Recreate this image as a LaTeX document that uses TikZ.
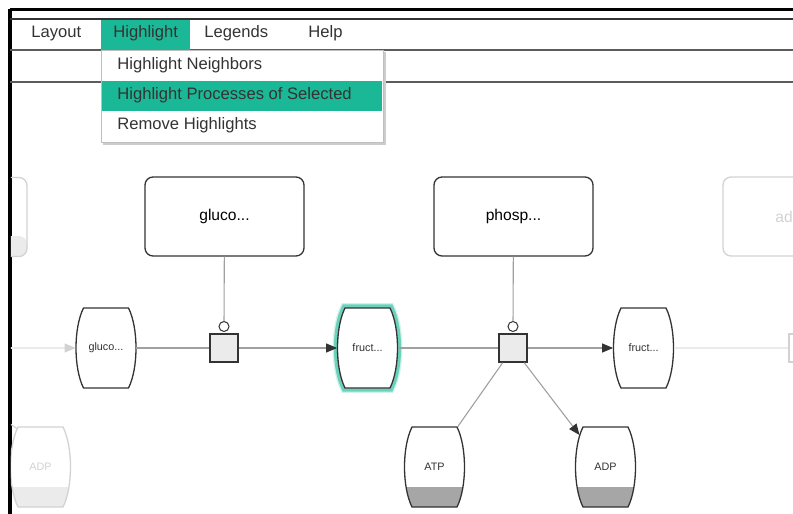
\documentclass[tikz,border=0pt]{standalone}
\usepackage{fontspec}
\setmainfont{Liberation Sans}
\usetikzlibrary{arrows.meta,positioning}

\definecolor{hl}{RGB}{26,184,150}
\definecolor{ink}{HTML}{333333}
\definecolor{wire}{HTML}{A0A0A0}
\definecolor{pale}{HTML}{D2D2D2}
\definecolor{paler}{HTML}{EBEBEB}
\definecolor{band}{HTML}{A6A6A6}

% barrel outline, 60x80 units round the origin
\newcommand{\barrelpath}{(-22.5,-40) -- (22.5,-40)
  .. controls (32.5,-20) and (32.5,20) .. (22.5,40) -- (-22.5,40)
  .. controls (-32.5,20) and (-32.5,-20) .. (-22.5,-40) -- cycle}
% molecule: outline colour, band colour, name, position, text
\newcommand{\molecule}[5]{%
  \begin{scope}[shift={#4}]
    \fill[white] \barrelpath;
    \begin{scope}
      \clip \barrelpath;
      \fill[#2] (-40,20) rectangle (40,45);
    \end{scope}
    \draw[#1,line width=0.65pt] \barrelpath;
  \end{scope}
  \node[mol,text=#1] (#3) at #4 {#5};}

\tikzstyle{menu}=[font=\fontsize{8.3}{10}\selectfont,
                  text=ink,
                  inner sep=0pt,
                  anchor=base west]
\tikzstyle{pbox}=[shape=rectangle,
                  rounded corners=4pt,
                  draw=ink,
                  line width=0.65pt,
                  minimum width=79.5pt,
                  minimum height=39.5pt,
                  font=\fontsize{7.8}{9}\selectfont]
\tikzstyle{fbox}=[pbox,
                  draw=pale,
                  text=pale]
\tikzstyle{fboxb}=[fbox,
                  path picture={\fill[paler] ([yshift=-9.5pt]path picture bounding box.west)
                                rectangle (path picture bounding box.south east);}]
\tikzstyle{mol}=[shape=rectangle,
                 minimum width=30pt,
                 minimum height=40pt,
                 inner sep=0pt,
                 font=\fontsize{5.4}{6}\selectfont]
\tikzstyle{proc}=[shape=rectangle,
                  draw=ink,
                  fill=paler,
                  line width=0.65pt,
                  minimum size=14pt,
                  inner sep=0pt]
\tikzstyle{fproc}=[proc,
                   draw=pale,
                   fill=white]
\tikzstyle{mod}=[shape=circle,
                 draw=ink,
                 fill=white,
                 line width=0.5pt,
                 minimum size=5pt,
                 inner sep=0pt]
\tikzstyle{wire}=[draw=wire,
                  line width=0.55pt]
\tikzstyle{fwire}=[draw=paler,
                   line width=0.55pt]

\begin{document}
\begin{tikzpicture}[x=0.5pt,y=-0.5pt,
    >={Triangle[length=5.5pt,width=4.5pt,color=ink]}]
\useasboundingbox (0,0) rectangle (793,514);

% window frame
\draw[black,line width=1.4pt] (9.5,9.5) -- (793,9.5);
\draw[black,line width=1.6pt] (10,9) -- (10,514);
\draw[ink,line width=1pt] (10,18.5) -- (793,18.5);
\draw[ink!80,line width=0.7pt] (10,50) -- (793,50);
\draw[ink!80,line width=0.7pt] (10,82) -- (793,82);

% menu bar
\fill[hl] (101,19.5) rectangle (190,50);
\node[menu] (lay) at (31,37)  {Layout};
\node[menu] (hil) at (113,37) {Highlight};
\node[menu] (leg) at (204,37) {Legends};
\node[menu] (hlp) at (308,37) {Help};

% dropdown
\fill[black!20] (103,52) rectangle (386,145);
\draw[black!25,fill=white,line width=0.5pt] (101,50) rectangle (383,142);
\fill[hl] (102,81) rectangle (382,111);
\node[menu] (nb) at (117,69)  {Highlight Neighbors};
\node[menu] (ps) at (117,99)  {Highlight Processes of Selected};
\node[menu] (rm) at (117,129) {Remove Highlights};

\begin{scope}
\clip (10.8,19) rectangle (793,514);

% controller boxes
\node[fboxb] (lbox) at (-52.5,217) {};
\node[pbox] (gbox)  at (224.5,216.5) {gluco...};
\node[pbox] (phbox) at (513.5,216.5) {phosp...};
\node[fbox] (adbox) at (802.5,216.5) {};
\node[font=\fontsize{7.8}{9}\selectfont,text=pale,anchor=west,inner sep=0pt]
     (adtxt) at (775,216.5) {ad};

% molecules
\molecule{ink}{white}{g1}{(106,348)}{gluco...}
\begin{scope}[shift={(367.5,348)}]
\draw[hl!55,line width=5pt,opacity=0.35] \barrelpath;
\draw[hl!65,line width=3.6pt] \barrelpath;
\end{scope}
\molecule{ink}{white}{f1}{(367.5,348)}{fruct...}
\molecule{ink}{white}{f2}{(643.5,348)}{fruct...}
\molecule{ink}{band}{atp}{(434.5,467)}{ATP}
\molecule{ink}{band}{adp}{(605.5,467)}{ADP}
\molecule{pale}{paler}{adpf}{(40.5,467)}{ADP}

% processes
\node[proc]  (p1) at (224,348) {};
\node[proc]  (p2) at (513,348) {};
\node[fproc] (p3) at (803,348) {};
\node[mod]   (c1) at (224,326.5) {};
\node[mod]   (c2) at (513,326.5) {};

\coordinate (lin) at (10,348);
\coordinate (lup) at (6,421);

% paths (arrows) along the chain
\draw[fwire,-{Triangle[length=5.5pt,width=4.5pt,color=pale]}] (lin) -- (g1);
\draw[wire]    (g1) -- (p1);
\draw[wire,->] (p1) -- (f1);
\draw[wire]    (f1) -- (p2);
\draw[wire,->] (p2) -- (f2);
\draw[fwire]   (f2) -- (p3);
% paths from controllers
\draw[wire] (gbox)  -- (c1);
\draw[wire] (phbox) -- (c2);
% side molecules
\draw[wire]    (p2) -- ([shift={(23,-40)}]atp.center);
\draw[wire,->] (p2) -- ([shift={(-26,-32)}]adp.center);
\draw[draw=pale,line width=0.55pt] (lup) -- ([shift={(-23,-38)}]adpf.center);
\end{scope}
\end{tikzpicture}
\end{document}
